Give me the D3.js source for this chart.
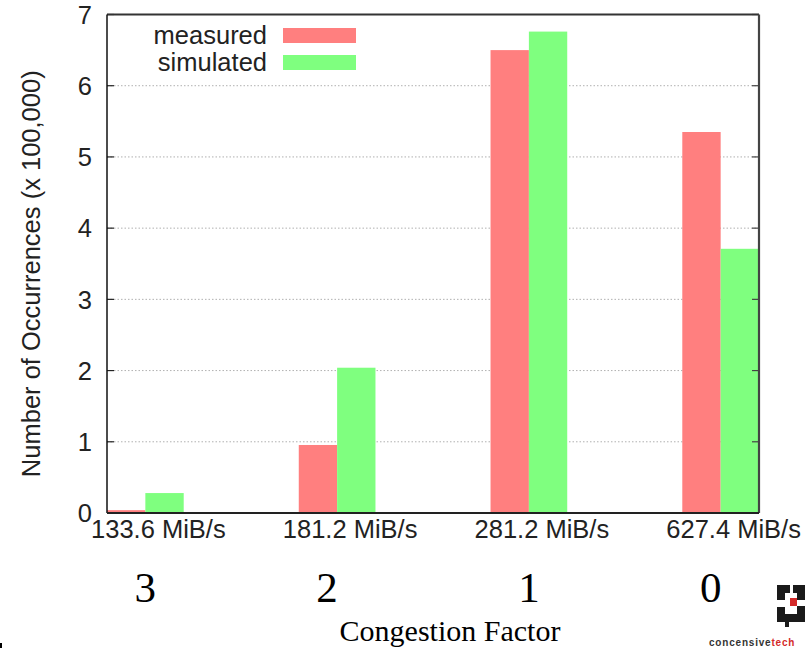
<!DOCTYPE html>
<html>
<head>
<meta charset="utf-8">
<script src="https://cdn.jsdelivr.net/npm/d3@7"></script>
<style>
  html, body { margin: 0; padding: 0; background: #fff; }
  svg { display: block; }
</style>
</head>
<body>
<svg id="chart" width="812" height="648"></svg>
<script>
// ---- data ----
const categories = ["133.6 MiB/s", "181.2 MiB/s", "281.2 MiB/s", "627.4 MiB/s"];
const congestionFactors = ["3", "2", "1", "0"];
const measured = [0.04, 0.955, 6.50, 5.35];
const simulated = [0.28, 2.04, 6.76, 3.71];
const seriesNames = ["measured", "simulated"];
const yTicks = [0, 1, 2, 3, 4, 5, 6, 7];

(function () {
// ---- layout ----
const svg = d3.select("#chart");
const pLeft = 107, pRight = 759, pTop = 14.5, pBottom = 513;
const colors = { measured: "#ff7f7f", simulated: "#7fff7f" };
const sans = "'Liberation Sans', Arial, Helvetica, sans-serif";
const serif = "'Liberation Serif', 'Times New Roman', serif";

const x = d3.scaleLinear().domain([-0.2, 3.2]).range([pLeft, pRight]);
const y = d3.scaleLinear().domain([0, 7]).range([pBottom, pTop]);
const barW = 0.2;

// grid lines
svg.append("g").selectAll("line").data(yTicks.filter(t => t > 0 && t < 7)).join("line")
  .attr("x1", pLeft).attr("x2", pRight)
  .attr("y1", d => y(d)).attr("y2", d => y(d))
  .attr("stroke", "#b0b0b0").attr("stroke-width", 1)
  .attr("stroke-dasharray", "1.5,2");

// bars
const rows = categories.map((c, i) => ({ i, measured: measured[i], simulated: simulated[i] }));
const bars = svg.append("g");
bars.selectAll("rect.m").data(rows).join("rect").attr("class", "m")
  .attr("x", d => x(d.i - barW)).attr("width", d => x(d.i) - x(d.i - barW))
  .attr("y", d => y(d.measured)).attr("height", d => y(0) - y(d.measured))
  .attr("fill", colors.measured);
bars.selectAll("rect.s").data(rows).join("rect").attr("class", "s")
  .attr("x", d => x(d.i)).attr("width", d => x(d.i + barW) - x(d.i))
  .attr("y", d => y(d.simulated)).attr("height", d => y(0) - y(d.simulated))
  .attr("fill", colors.simulated);

// tick marks left & right (inward)
const tk = svg.append("g");
tk.selectAll("line.l").data(yTicks).join("line").attr("class", "l")
  .attr("x1", pLeft).attr("x2", pLeft + 7)
  .attr("y1", d => y(d)).attr("y2", d => y(d))
  .attr("stroke", "#222").attr("stroke-width", 1.2);
tk.selectAll("line.r").data(yTicks).join("line").attr("class", "r")
  .attr("x1", pRight - 7).attr("x2", pRight)
  .attr("y1", d => y(d)).attr("y2", d => y(d))
  .attr("stroke", "#444").attr("stroke-width", 1.2);

// frame
svg.append("line").attr("x1", pLeft).attr("x2", pRight).attr("y1", pTop).attr("y2", pTop)
  .attr("stroke", "#333").attr("stroke-width", 2.2);
svg.append("line").attr("x1", pRight).attr("x2", pRight).attr("y1", pTop).attr("y2", pBottom)
  .attr("stroke", "#444").attr("stroke-width", 2.2);
svg.append("line").attr("x1", pLeft).attr("x2", pLeft).attr("y1", pTop).attr("y2", pBottom)
  .attr("stroke", "#111").attr("stroke-width", 1.5);
svg.append("line").attr("x1", pLeft).attr("x2", pRight).attr("y1", pBottom).attr("y2", pBottom)
  .attr("stroke", "#222").attr("stroke-width", 2);

// y tick labels
svg.append("g").selectAll("text").data(yTicks).join("text")
  .attr("x", 92).attr("y", d => y(d)).attr("dy", "0.36em")
  .attr("text-anchor", "end")
  .attr("font-family", sans).attr("font-size", 25.5).attr("fill", "#222")
  .text(d => d);

// x tick labels
svg.append("g").selectAll("text").data(categories).join("text")
  .attr("x", (d, i) => x(i) + 13).attr("y", 538)
  .attr("text-anchor", "middle")
  .attr("font-family", sans).attr("font-size", 25.5).attr("fill", "#222")
  .text(d => d);

// y axis title
svg.append("text")
  .attr("transform", `translate(39.5,${(pTop + pBottom) / 2 + 10}) rotate(-90)`)
  .attr("text-anchor", "middle")
  .attr("font-family", sans).attr("font-size", 25.5).attr("fill", "#222")
  .text("Number of Occurrences (x 100,000)");

// legend
const legend = svg.append("g");
seriesNames.forEach((name, k) => {
  const by = 44 + k * 27;
  legend.append("text").attr("x", 267).attr("y", by)
    .attr("text-anchor", "end")
    .attr("font-family", sans).attr("font-size", 25.5).attr("fill", "#222")
    .text(name);
  legend.append("rect").attr("x", 283).attr("y", by - 16).attr("width", 73).attr("height", 15)
    .attr("fill", colors[name]);
});

// congestion factor labels (slightly shifted left of group centres, as in the slide)
svg.append("g").selectAll("text").data(congestionFactors).join("text")
  .attr("x", (d, i) => x(i) - (i % 2) * 10).attr("y", 602)
  .attr("text-anchor", "middle")
  .attr("font-family", serif).attr("font-size", 43).attr("fill", "#000")
  .text(d => d);

svg.append("text").attr("x", 450).attr("y", 641)
  .attr("text-anchor", "middle")
  .attr("font-family", serif).attr("font-size", 30).attr("fill", "#000")
  .text("Congestion Factor");

// logo (decoration)
const logo = svg.append("g").attr("fill", "#1a1a1a");
[[777,585,13,8],[777,585,8,15],[793,585,12,8],[797,585,8,15],
 [777,607,8,15],[785,614,20,8],[797,606,8,16],[785,622,4,5]]
  .forEach(r => logo.append("rect").attr("x", r[0]).attr("y", r[1]).attr("width", r[2]).attr("height", r[3]));
svg.append("rect").attr("x", 790).attr("y", 598).attr("width", 7).attr("height", 8).attr("fill", "#d42a2a");
const lt = svg.append("text").attr("x", 709).attr("y", 646)
  .attr("font-family", sans).attr("font-size", 10).attr("font-weight", "bold").attr("letter-spacing", 0.8);
lt.append("tspan").attr("fill", "#333").text("concensive");
lt.append("tspan").attr("fill", "#d42a2a").text("tech");

svg.append("rect").attr("x", 0).attr("y", 643).attr("width", 2).attr("height", 5).attr("fill", "#000");
})();
</script>
</body>
</html>
